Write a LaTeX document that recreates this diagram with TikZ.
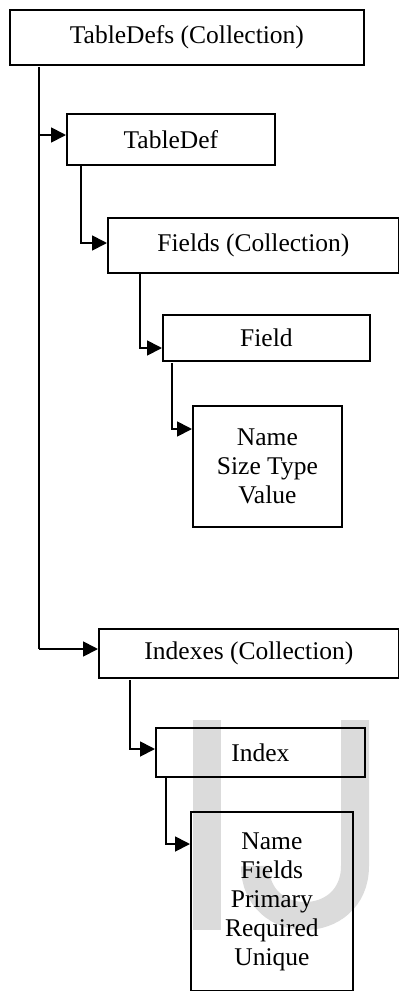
\documentclass[tikz,border=0pt]{standalone}
\usepackage{fontspec}
\setmainfont{Liberation Serif}
\usetikzlibrary{arrows.meta}
\begin{document}
\begin{tikzpicture}[x=1pt,y=-1pt,
  box/.style={draw, line width=1.8pt, anchor=north west, inner sep=0pt,
    align=center, font=\fontsize{25.5}{29}\selectfont},
  conn/.style={line width=1.8pt},
  arr/.style={conn, -{Triangle[length=15pt,width=15pt]}},
  mark gray/.style={fill=black!14}
]
\useasboundingbox (0,0) rectangle (399,991);

% light gray "IJ" lettering in the background
\fill[mark gray] (193,720) rectangle (221,930);
\draw[draw=black!14, line width=28pt]
  (355,720) -- (355,866) .. controls (355,932.7) and (255,932.7) .. (255,866);

% object boxes
\node[box, minimum width=354pt, minimum height=55pt] (tdefs) at (9,9) {TableDefs (Collection)};
\node[box, minimum width=208pt, minimum height=51pt] (tdef) at (66,113) {TableDef};
\node[box, minimum width=291pt, minimum height=55pt] (fields) at (107,217) {Fields (Collection)};
\node[box, minimum width=207pt, minimum height=46pt] (field) at (162,314) {Field};
\node[box, minimum width=149pt, minimum height=121pt] (fattr) at (192,405) {Name\\Size Type\\Value};
\node[box, minimum width=300pt, minimum height=49pt] (indexes) at (98,628) {Indexes (Collection)};
\node[box, minimum width=209pt, minimum height=49pt] (index) at (155,727) {Index};
\node[box, minimum width=162pt, minimum height=179pt] (iattr) at (190,811) {Name\\Fields\\Primary\\Required\\Unique};

% branch points of the tree lines
\coordinate (t0) at (39,67);
\coordinate (t1) at (39,135);
\coordinate (t2) at (39,649);
\coordinate (a1) at (81,243);
\coordinate (b1) at (140,348);
\coordinate (c0) at (172,363);
\coordinate (c1) at (172,429);
\coordinate (d1) at (130,749);
\coordinate (e1) at (166,844);

% TableDefs trunk
\draw[conn] (t0) -- (t2);
\draw[arr] (t1) -- (t1 -| tdef.west);
\draw[arr] (t2) -- (t2 -| indexes.west);

% TableDef -> Fields
\draw[arr] (a1 |- tdef.south) -- (a1) -- (a1 -| fields.west);
% Fields -> Field
\draw[arr] (b1 |- fields.south) -- (b1) -- (b1 -| field.west);
% Field -> attributes
\draw[arr] (c0) -- (c1) -- (c1 -| fattr.west);
% Indexes -> Index
\draw[arr] (d1 |- 0,680) -- (d1) -- (d1 -| index.west);
% Index -> attributes
\draw[arr] (e1 |- index.south) -- (e1) -- (e1 -| iattr.west);
\end{tikzpicture}
\end{document}
